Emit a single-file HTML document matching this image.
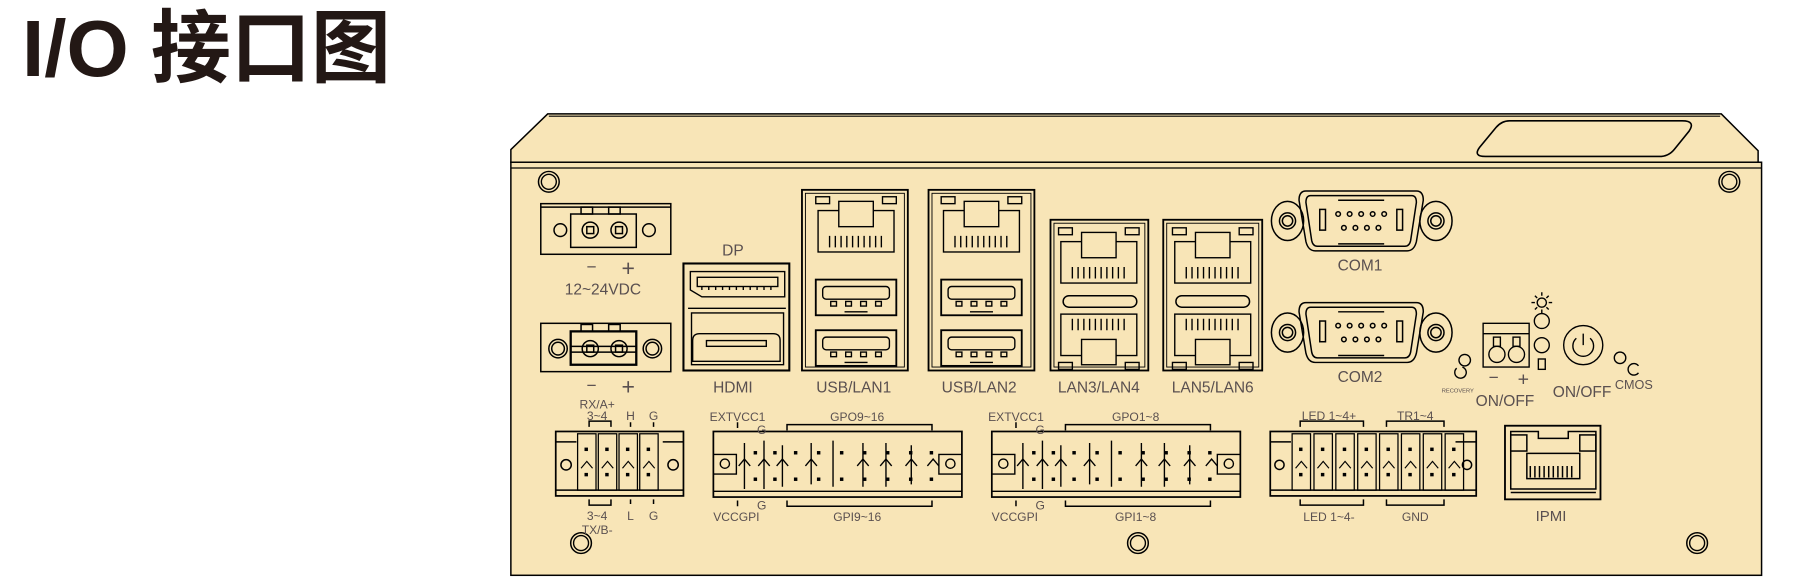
<!DOCTYPE html>
<html><head><meta charset="utf-8"><style>
html,body{margin:0;padding:0;background:#fff;width:1795px;height:582px;overflow:hidden}
svg{display:block}
text{font-family:"Liberation Sans","Noto Sans CJK SC",sans-serif;fill:#5a5050}
</style></head><body>
<svg width="1795" height="582" viewBox="0 0 1795 582" xmlns="http://www.w3.org/2000/svg">
<text x="22" y="76" style="font-size:80px;font-weight:bold;fill:#231815;font-family:'Liberation Sans','Noto Sans CJK SC',sans-serif">I/O 接口图</text>
<defs>
 <g id="screw"><circle r="9" fill="none" stroke="#000" stroke-width="1.3"/><circle r="6.5" fill="none" stroke="#000" stroke-width="1.2"/></g>
 <g id="rj" fill="none" stroke="#000" stroke-width="1.2">
  <rect x="0" y="8" width="66" height="36"/><rect x="18" y="0" width="30" height="22" fill="#f8e5b7"/>
  <path d="M10 30v10M15 30v10M20 30v10M25 30v10M30 30v10M35 30v10M40 30v10M45 30v10M50 30v10M55 30v10"/>
  <rect x="-2" y="-4" width="12" height="6"/><rect x="56" y="-4" width="12" height="6"/>
 </g>
 <g id="usb" fill="none" stroke="#000" stroke-width="1.2">
  <rect x="0" y="0" width="70" height="31" stroke-width="1.6"/><rect x="6" y="6" width="58" height="11" rx="3"/>
  <rect x="13" y="19" width="5" height="4"/><rect x="26" y="19" width="5" height="4"/><rect x="39" y="19" width="5" height="4"/><rect x="52" y="19" width="5" height="4"/>
  <path d="M25 28h20"/>
 </g>
 <g id="pin"><rect x="0" y="0" width="16" height="49" fill="none" stroke="#000" stroke-width="1.1"/><rect x="6" y="12" width="3" height="3" fill="#000"/><rect x="6" y="34" width="3" height="3" fill="#000"/><path d="M3 30l5-6 5 6" fill="none" stroke="#000" stroke-width="1"/></g>
 <g id="com" fill="none" stroke="#000" stroke-width="1.3">
  <ellipse cx="-64" cy="0" rx="14" ry="17"/><circle cx="-64" cy="0" r="7"/><circle cx="-64" cy="0" r="4.5"/>
  <ellipse cx="65" cy="0" rx="14" ry="17"/><circle cx="65" cy="0" r="7"/><circle cx="65" cy="0" r="4.5"/>
  <path d="M-48 -26h96q6 0 6 8l-6 36q-2 8-8 8h-80q-6 0-8-8l-6-36q0-8 6-8z"/>
  <path d="M-44 -22h88q4 0 4 6l-5 33q-1 5-5 5h-76q-4 0-5-5l-5-33q0-6 4-6z"/>
  <rect x="-36" y="-10" width="5" height="18"/><rect x="31" y="-10" width="5" height="18"/>
  <circle cx="-20" cy="-6" r="2"/><circle cx="-10" cy="-6" r="2"/><circle cx="0" cy="-6" r="2"/><circle cx="10" cy="-6" r="2"/><circle cx="20" cy="-6" r="2"/>
  <circle cx="-15" cy="6" r="2"/><circle cx="-5" cy="6" r="2"/><circle cx="5" cy="6" r="2"/><circle cx="15" cy="6" r="2"/>
  <path d="M-20 -18h40M-20 20h40"/>
 </g>
 <g id="gpio" fill="none" stroke="#000" stroke-width="1.2">
  <rect x="0" y="0" width="216" height="57" stroke-width="1.5"/>
  <path d="M0 20h20v17H0M216 20h-20v17h20M0 52h216"/>
  <circle cx="10" cy="28" r="4"/><circle cx="206" cy="28" r="4"/>
  <path d="M27 10v40M44 8v42M60 12v36M85 10v36M104 8v40M130 10v38M150 10v38M172 12v34"/>
  <path d="M22 30l5-6 5 6M39 30l5-6 5 6M55 30l5-6 5 6M80 30l5-6 5 6M125 30l5-6 5 6M145 30l5-6 5 6M167 30l5-6 5 6M186 30l5-6 5 6"/>
 </g>
 <g id="gpiodots" fill="#000">
  <rect x="35" y="17" width="3" height="3"/><rect x="52" y="17" width="3" height="3"/><rect x="70" y="17" width="3" height="3"/><rect x="90" y="17" width="3" height="3"/><rect x="110" y="17" width="3" height="3"/><rect x="130" y="17" width="3" height="3"/><rect x="150" y="17" width="3" height="3"/><rect x="170" y="17" width="3" height="3"/><rect x="188" y="17" width="3" height="3"/>
  <rect x="35" y="40" width="3" height="3"/><rect x="52" y="40" width="3" height="3"/><rect x="70" y="40" width="3" height="3"/><rect x="90" y="40" width="3" height="3"/><rect x="110" y="40" width="3" height="3"/><rect x="130" y="40" width="3" height="3"/><rect x="150" y="40" width="3" height="3"/><rect x="170" y="40" width="3" height="3"/><rect x="188" y="40" width="3" height="3"/>
 </g>
</defs>
<g transform="scale(1.1506)">
 <path d="M444 141V130L476 99H1496L1528 131V141Z" fill="#f8e5b7" stroke="#000" stroke-width="1.3"/>
 <path d="M477 101H1495" stroke="#000" stroke-width="1"/>
 <rect x="444" y="141" width="1087" height="359" fill="#f8e5b7" stroke="#000" stroke-width="1.3"/>
 <path d="M444 146H1531" stroke="#000" stroke-width="1"/>
 <path d="M1312 105H1462Q1474 105 1468 114L1455 130Q1450 136 1442 136H1291Q1280 136 1286 128L1300 111Q1305 105 1312 105Z" fill="none" stroke="#000" stroke-width="1.4"/>
 <use href="#screw" x="477" y="158"/><use href="#screw" x="1503" y="158"/>
 <use href="#screw" x="505" y="472"/><use href="#screw" x="989" y="472"/><use href="#screw" x="1475" y="472"/>

 <g fill="none" stroke="#000" stroke-width="1.3">
  <rect x="470" y="177" width="113" height="44"/><path d="M470 180h113"/>
  <rect x="496" y="186" width="57" height="29"/><rect x="505" y="180" width="10" height="6"/><rect x="529" y="180" width="10" height="6"/>
  <circle cx="513" cy="200" r="7"/><circle cx="538" cy="200" r="7"/><rect x="510" y="197" width="6" height="6"/><rect x="535" y="197" width="6" height="6"/>
  <circle cx="487" cy="200" r="5.5"/><circle cx="564" cy="200" r="5.5"/>
  <rect x="470" y="281" width="113" height="42"/>
  <rect x="496" y="288" width="57" height="29" stroke-width="2"/><rect x="505" y="282" width="10" height="6"/><rect x="529" y="282" width="10" height="6"/>
  <circle cx="513" cy="303" r="7"/><circle cx="538" cy="303" r="7"/><rect x="510" y="300" width="6" height="6"/><rect x="535" y="300" width="6" height="6"/>
  <circle cx="485" cy="303" r="8"/><circle cx="485" cy="303" r="5.5"/><circle cx="567" cy="303" r="8"/><circle cx="567" cy="303" r="5.5"/>
  <path d="M496 301h57M496 306h57"/>
 </g>
 <g style="font-size:15px" text-anchor="middle">
  <text x="514" y="237">−</text><text x="546" y="240" style="font-size:20px">+</text>
  <text x="524" y="256" style="font-size:13.5px">12~24VDC</text>
  <text x="514" y="340">−</text><text x="546" y="343" style="font-size:20px">+</text>
  <text x="637" y="222" style="font-size:13.5px">DP</text>
  <text x="637" y="341" style="font-size:13.5px">HDMI</text>
  <text x="742" y="341" style="font-size:13.5px">USB/LAN1</text>
  <text x="851" y="341" style="font-size:13.5px">USB/LAN2</text>
  <text x="955" y="341" style="font-size:13.5px">LAN3/LAN4</text>
  <text x="1054" y="341" style="font-size:13.5px">LAN5/LAN6</text>
  <text x="1182" y="235" style="font-size:13.5px">COM1</text>
  <text x="1182" y="332" style="font-size:13.5px">COM2</text>
  <text x="1308" y="353" style="font-size:13.5px">ON/OFF</text>
  <text x="1375" y="345" style="font-size:13.5px">ON/OFF</text>
  <text x="1420" y="338" style="font-size:11px">CMOS</text>
  <text x="1267" y="341" style="font-size:5px">RECOVERY</text>
  <text x="1298" y="333">−</text><text x="1324" y="335" style="font-size:17px">+</text>
 </g>

 <g fill="none" stroke="#000" stroke-width="1.2">
  <rect x="594" y="229" width="92" height="93" stroke-width="1.8"/>
  <path d="M600 236h82v22h-72l-10-6z"/><rect x="606" y="241" width="70" height="8"/>
  <path d="M610 249v3M616 249v3M622 249v3M628 249v3M634 249v3M640 249v3M646 249v3M652 249v3M658 249v3M664 249v3M670 249v3"/>
  <path d="M598 268h85M601 272h80v45H601z"/>
  <path d="M602 296q0-6 6-6h64q6 0 6 6v18h-76z"/><rect x="614" y="296" width="52" height="5"/>
 </g>
 <g fill="none" stroke="#000" stroke-width="1.3">
  <rect x="697" y="165" width="92" height="157" stroke-width="1.6"/><rect x="700" y="168" width="86" height="151" stroke-width="0.8"/>
  <rect x="807" y="165" width="92" height="157" stroke-width="1.6"/><rect x="810" y="168" width="86" height="151" stroke-width="0.8"/>
 </g>
 <use href="#rj" x="711" y="175"/><use href="#rj" x="820" y="175"/>
 <use href="#usb" x="709" y="243"/><use href="#usb" x="709" y="287"/>
 <use href="#usb" x="818" y="243"/><use href="#usb" x="818" y="287"/>
 <g fill="none" stroke="#000" stroke-width="1.3">
  <rect x="913" y="191" width="85" height="131" stroke-width="1.6"/><rect x="916" y="194" width="79" height="125" stroke-width="0.8"/>
  <rect x="1011" y="191" width="86" height="131" stroke-width="1.6"/><rect x="1014" y="194" width="80" height="125" stroke-width="0.8"/>
  <rect x="924" y="257" width="64" height="10" rx="5"/><rect x="1022" y="257" width="64" height="10" rx="5"/>
 </g>
 <use href="#rj" x="922" y="202"/><use href="#rj" x="1021" y="202"/>
 <use href="#rj" transform="translate(922,317) scale(1,-1)"/><use href="#rj" transform="translate(1021,317) scale(1,-1)"/>
 <use href="#com" x="1183" y="192"/><use href="#com" x="1183" y="289"/>
 <g fill="none" stroke="#000" stroke-width="1.2">
  <circle cx="1273" cy="313" r="5"/><path d="M1266 320a5 5 0 1 0 5 -1"/>
  <rect x="1289" y="281" width="40" height="38"/><path d="M1289 290h40"/>
  <circle cx="1301" cy="308" r="7"/><circle cx="1318" cy="308" r="7"/>
  <rect x="1298" y="293" width="6" height="8"/><rect x="1315" y="293" width="6" height="8"/>
  <circle cx="1340" cy="279" r="6.5"/><circle cx="1340" cy="300" r="6.5"/><rect x="1337" y="312" width="6" height="9"/>
  <circle cx="1340" cy="263" r="4"/><path d="M1340 254v3M1340 269v3M1331 263h3M1346 263h3M1334 257l2 2M1344 267l2 2M1346 257l-2 2M1336 267l-2 2"/>
  <circle cx="1376" cy="300" r="17"/><path d="M1370 294a9 9 0 1 0 12 0M1376 290v10"/>
  <circle cx="1408" cy="311" r="5"/><path d="M1424 318a5 5 0 1 0 0 6"/>
 </g>
 <g fill="none" stroke="#000" stroke-width="1.3">
  <rect x="483" y="375" width="111" height="56" stroke-width="1.5"/>
  <path d="M483 426h111M483 384h18M576 384h18"/>
  <circle cx="492" cy="404" r="4.5"/><circle cx="585" cy="404" r="4.5"/>
  <path d="M512 371v-5h19v5M548 371v-4M568 371v-4M512 434v5h19v-5M548 434v4M568 434v4"/>
  <path d="M684 374v-5h126v5M684 435v5h126v-5M641 372v-5M641 435v5"/>
  <path d="M926 374v-5h126v5M926 435v5h126v-5M883 372v-5M883 435v5"/>
  <rect x="1104" y="375" width="179" height="56" stroke-width="1.5"/>
  <path d="M1104 426h179M1104 384h18M1265 384h18"/>
  <circle cx="1112" cy="404" r="4"/><circle cx="1275" cy="404" r="4"/>
  <path d="M1130 371v-5h55v5M1205 371v-5h50v5M1130 434v5h55v-5M1205 434v5h50v-5"/>
  <rect x="1308" y="370" width="83" height="64" stroke-width="1.6"/>
  <path d="M1313 375h24v6h26v-6h24v50h-74z"/>
  <rect x="1313" y="378" width="14" height="14"/><rect x="1373" y="378" width="14" height="14"/>
  <path d="M1327 394h46v22h-46zM1330 405v10M1334 405v10M1338 405v10M1342 405v10M1346 405v10M1350 405v10M1354 405v10M1358 405v10M1362 405v10M1366 405v10"/>
  <path d="M1313 428h74"/>
 </g>
 <use href="#pin" x="502" y="377"/><use href="#pin" x="520" y="377"/><use href="#pin" x="538" y="377"/><use href="#pin" x="556" y="377"/>
 <use href="#gpio" x="620" y="375"/><use href="#gpiodots" x="620" y="375"/>
 <use href="#gpio" x="862" y="375"/><use href="#gpiodots" x="862" y="375"/>
 <use href="#pin" x="1123" y="377"/><use href="#pin" x="1142" y="377"/><use href="#pin" x="1161" y="377"/><use href="#pin" x="1180" y="377"/>
 <use href="#pin" x="1199" y="377"/><use href="#pin" x="1218" y="377"/><use href="#pin" x="1237" y="377"/><use href="#pin" x="1256" y="377"/>
 <g style="font-size:10.5px" text-anchor="middle">
  <text x="519" y="355">RX/A+</text><text x="519" y="365">3~4</text><text x="548" y="365">H</text><text x="568" y="365">G</text>
  <text x="519" y="452">3~4</text><text x="519" y="464">TX/B-</text><text x="548" y="452">L</text><text x="568" y="452">G</text>
  <text x="641" y="366">EXTVCC1</text><text x="745" y="366">GPO9~16</text><text x="662" y="377">G</text>
  <text x="662" y="443">G</text><text x="640" y="453">VCCGPI</text><text x="745" y="453">GPI9~16</text>
  <text x="883" y="366">EXTVCC1</text><text x="987" y="366">GPO1~8</text><text x="904" y="377">G</text>
  <text x="904" y="443">G</text><text x="882" y="453">VCCGPI</text><text x="987" y="453">GPI1~8</text>
  <text x="1155" y="365">LED 1~4+</text><text x="1230" y="365">TR1~4</text>
  <text x="1155" y="453">LED 1~4-</text><text x="1230" y="453">GND</text>
  <text x="1348" y="453" style="font-size:13px">IPMI</text>
 </g>
</g>
</svg>
</body></html>
